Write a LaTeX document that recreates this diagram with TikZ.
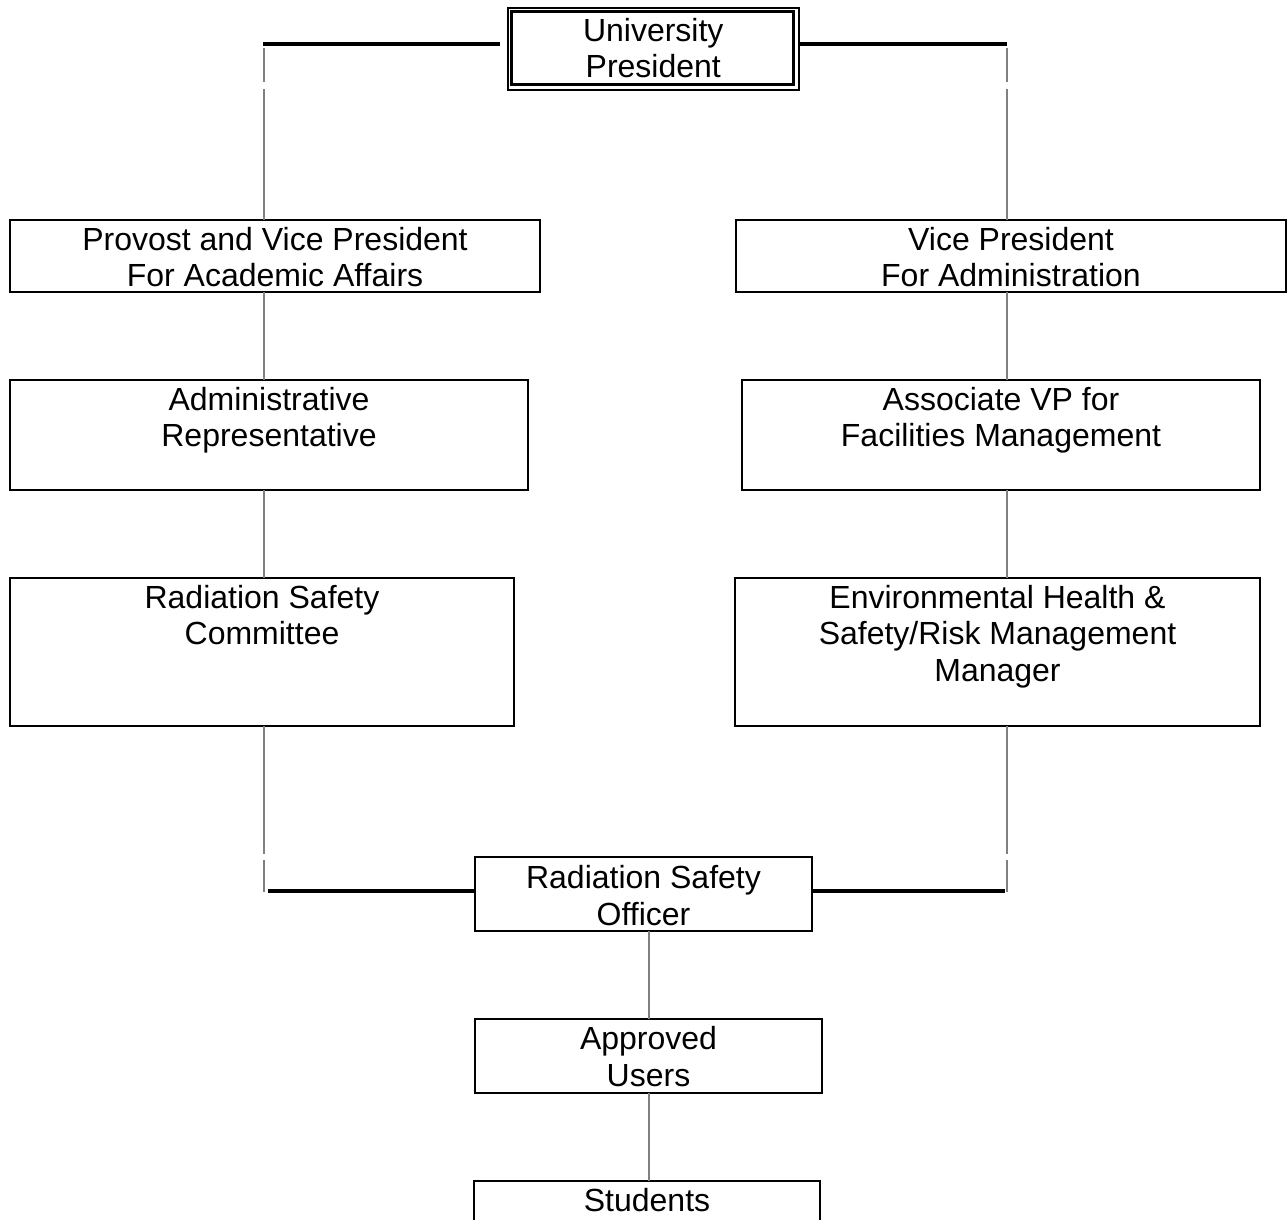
\documentclass[tikz,border=0pt]{standalone}
\usepackage{fontspec}
\setmainfont{Liberation Sans}
\begin{document}
\begin{tikzpicture}[x=1pt,y=-1pt,
  box/.style={draw=black,line width=2.2pt,anchor=north west,inner sep=0pt,outer sep=0pt},
  lbl/.style={anchor=north,inner sep=0pt,align=center,font=\fontsize{32}{36.6}\selectfont},
  conn/.style={draw=black!50,line width=1.4pt},
  bar/.style={draw=black,line width=3.4pt}]
\useasboundingbox (0,0) rectangle (1288,1219);
% boxes
\node[draw=black,line width=1.5pt,anchor=north west,inner sep=0pt,minimum width=291pt,minimum height=82pt] (pres) at (507,7) {};
\node[box,line width=2.6pt,minimum width=282pt,minimum height=73pt] (presin) at (511.5,11.5) {};
\node[lbl] (presl) at ([yshift=-11pt]pres.north) {University\\President};

\node[box,minimum width=530pt,minimum height=72pt] (prov) at (10,220) {};
\node[lbl] (provl) at ([yshift=-7pt]prov.north) {Provost and Vice President\\For Academic Affairs};

\node[box,minimum width=550pt,minimum height=72pt] (vpa) at (736,220) {};
\node[lbl] (vpal) at ([yshift=-7pt]vpa.north) {Vice President\\For Administration};

\node[box,minimum width=518pt,minimum height=110pt] (adm) at (10,380) {};
\node[lbl] (adml) at ([yshift=-7pt]adm.north) {Administrative\\Representative};

\node[box,minimum width=518pt,minimum height=110pt] (avp) at (742,380) {};
\node[lbl] (avpl) at ([yshift=-7pt]avp.north) {Associate VP for\\Facilities Management};

\node[box,minimum width=504pt,minimum height=148pt] (rsc) at (10,578) {};
\node[lbl] (rscl) at ([yshift=-7pt]rsc.north) {Radiation Safety\\Committee};

\node[box,minimum width=525pt,minimum height=148pt] (ehs) at (735,578) {};
\node[lbl] (ehsl) at ([yshift=-7pt]ehs.north) {Environmental Health \&\\Safety/Risk Management\\Manager};

\node[box,minimum width=337pt,minimum height=74pt] (rso) at (475,857) {};
\node[lbl] (rsol) at ([yshift=-8pt]rso.north) {Radiation Safety\\Officer};

\node[box,minimum width=347pt,minimum height=74pt] (au) at (475,1019) {};
\node[lbl] (aul) at ([yshift=-7.5pt]au.north) {Approved\\Users};

\node[box,minimum width=346pt,minimum height=60pt] (stu) at (474,1181) {};
\node[lbl] (stul) at ([yshift=-7.5pt]stu.north) {Students};

% connector coordinates
\coordinate (tl) at (263,44);
\coordinate (tr) at (1007,44);
\coordinate (bl) at (268,891);
\coordinate (br) at (1005,891);

% top bars
\draw[bar] (tl) -- (500,44);
\draw[bar] (pres.east |- tr) -- (tr);
% left verticals
\draw[conn] (264,48) -- (264,82);
\draw[conn] (264,89) -- (prov.north -| 264,0);
\draw[conn] (prov.south -| 264,0) -- (adm.north -| 264,0);
\draw[conn] (adm.south -| 264,0) -- (rsc.north -| 264,0);
\draw[conn] (rsc.south -| 264,0) -- (264,854);
\draw[conn] (264,860) -- (264,892);
% right verticals
\draw[conn] (1007,48) -- (1007,82);
\draw[conn] (1007,89) -- (vpa.north -| 1007,0);
\draw[conn] (vpa.south -| 1007,0) -- (avp.north -| 1007,0);
\draw[conn] (avp.south -| 1007,0) -- (ehs.north -| 1007,0);
\draw[conn] (ehs.south -| 1007,0) -- (1007,854);
\draw[conn] (1007,860) -- (1007,892);
% bottom bars
\draw[bar] (bl) -- (rso.west |- bl);
\draw[bar] (rso.east |- br) -- (br);
% lower chain
\draw[conn] (rso.south -| 649,0) -- (au.north -| 649,0);
\draw[conn] (au.south -| 649,0) -- (stu.north -| 649,0);
\end{tikzpicture}
\end{document}
